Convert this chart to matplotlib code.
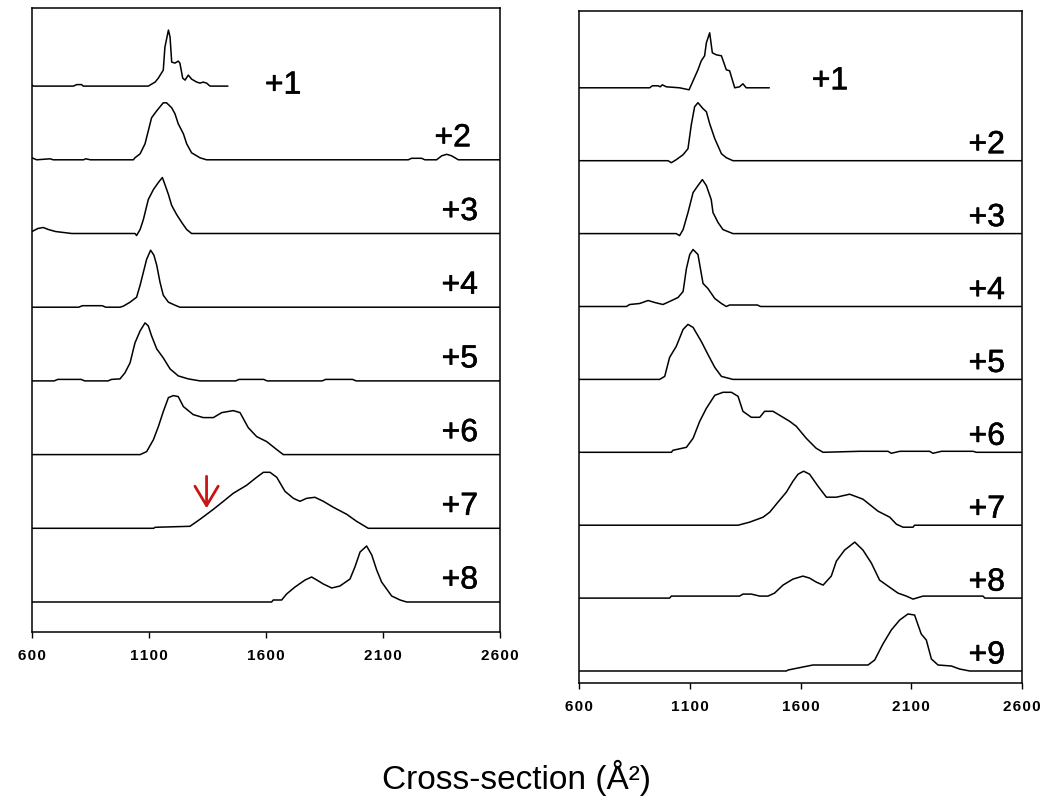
import matplotlib
matplotlib.use("Agg")
import matplotlib.pyplot as plt
import matplotlib.patheffects as pe
import numpy as np

plt.rcParams["font.family"] = ["Liberation Sans", "DejaVu Sans"]

# Cross-section distributions, (cross-section in A^2, intensity a.u.)
# Left column: charge states +1 .. +8
L1 = [(600, 1), (606, 0), (777, 0), (791, 1.5), (812, 1.5), (819, 0), (1097, 0), (1126, 4),
      (1140, 8), (1161, 16), (1168, 39), (1183, 56), (1190, 49), (1197, 24), (1211, 23),
      (1225, 25), (1232, 23), (1244, 8), (1254, 6), (1268, 11), (1282, 7), (1304, 4),
      (1318, 3), (1332, 4), (1346, 3), (1361, 0), (1436, 0)]
L2 = [(600, 2), (620, 0), (677, 1), (691, 0), (820, 0), (830, 1), (850, 0), (1033, 0),
      (1040, 2), (1062, 6), (1083, 16), (1097, 29), (1111, 42), (1133, 49), (1161, 57),
      (1175, 57), (1197, 52), (1211, 46), (1225, 36), (1247, 26), (1261, 16), (1282, 7),
      (1318, 2), (1346, 0), (2208, 0), (2222, 1.5), (2265, 1.5), (2279, 0), (2329, 0),
      (2351, 4), (2372, 5.5), (2393, 4), (2422, 0), (2600, 0)]
L3 = [(600, 2), (625, 5), (648, 6), (670, 4), (700, 2), (770, 0), (1040, 0), (1047, -2),
      (1062, 4), (1076, 14), (1097, 34), (1119, 44), (1140, 51), (1157, 56), (1168, 49),
      (1183, 39), (1197, 28), (1218, 19), (1240, 11), (1261, 4), (1282, 0), (2600, 0)]
L4 = [(600, 0), (800, 0), (815, 1.5), (900, 1.5), (915, 0), (976, 0), (990, 1), (1019, 5),
      (1047, 10), (1062, 22), (1076, 35), (1090, 48), (1107, 57), (1121, 52), (1133, 42),
      (1147, 25), (1161, 12), (1183, 5), (1211, 2), (1232, 0), (2600, 0)]
L5 = [(600, 0), (695, 0), (710, 1.5), (810, 1.5), (825, 0), (925, 0), (940, 1.5), (976, 2),
      (997, 8), (1019, 18), (1040, 38), (1062, 50), (1083, 58), (1097, 55), (1111, 45),
      (1133, 32), (1161, 23), (1190, 12), (1225, 5), (1268, 2), (1318, 0), (1470, 0),
      (1485, 1.5), (1590, 1.5), (1605, 0), (1840, 0), (1855, 1.5), (1970, 1.5), (1985, 0),
      (2600, 0)]
L6 = [(600, 0), (1062, 0), (1090, 3), (1119, 15), (1140, 28), (1161, 43), (1183, 57),
      (1204, 59), (1225, 58), (1247, 48), (1289, 40), (1332, 37), (1375, 37), (1411, 42),
      (1460, 44), (1489, 42), (1524, 27), (1560, 18), (1603, 13), (1646, 5), (1674, 0),
      (2600, 0)]
L7 = [(600, 0), (1120, 0), (1126, 1), (1275, 2), (1318, 9), (1375, 19), (1418, 27),
      (1460, 35), (1517, 43), (1560, 51), (1589, 56), (1617, 56), (1646, 51), (1681, 37),
      (1717, 30), (1745, 27), (1774, 30), (1809, 31), (1845, 27), (1888, 21), (1945, 14),
      (1987, 7), (2037, 0), (2600, 0)]
L8 = [(600, 0), (1624, 0), (1631, 2), (1667, 2), (1688, 8), (1724, 15), (1767, 22),
      (1795, 25), (1817, 22), (1845, 18), (1881, 14), (1916, 16), (1959, 23), (1980, 35),
      (2002, 50), (2030, 56), (2052, 47), (2073, 32), (2094, 20), (2137, 6), (2173, 2),
      (2201, 0), (2600, 0)]

# Right column: charge states +1 .. +9
R1 = [(600, 0), (919, 0), (931, 2), (957, 2), (967, 1), (976, 3), (994, 1), (1054, 0),
      (1097, -2), (1115, 7), (1137, 18), (1152, 27), (1167, 32), (1175, 45), (1190, 55),
      (1202, 35), (1220, 33), (1243, 32), (1265, 18), (1280, 17), (1303, 0), (1325, 1),
      (1340, 4), (1355, 0), (1458, 0)]
R2 = [(600, 0), (1002, 0), (1017, -2), (1039, 1), (1070, 6), (1092, 12), (1107, 36),
      (1122, 54), (1137, 58), (1160, 52), (1175, 49), (1190, 37), (1213, 22), (1243, 7),
      (1265, 3), (1295, 0), (2600, 0)]
R3 = [(600, 0), (1039, 0), (1054, -2), (1070, 4), (1092, 21), (1115, 41), (1137, 48),
      (1157, 54), (1175, 48), (1197, 34), (1205, 21), (1228, 11), (1250, 4), (1295, 0),
      (2600, 0)]
R4 = [(600, 0), (814, 0), (829, 2), (874, 3), (912, 6), (942, 4), (979, 2), (1009, 5),
      (1047, 9), (1070, 15), (1085, 38), (1100, 52), (1115, 57), (1137, 52), (1160, 23),
      (1182, 18), (1213, 8), (1243, 3), (1265, 0), (1280, 1.5), (1405, 1.5), (1420, 0),
      (2600, 0)]
R5 = [(600, 0), (964, 0), (987, 3), (1009, 22), (1039, 33), (1070, 50), (1092, 55),
      (1115, 52), (1152, 38), (1182, 25), (1213, 12), (1243, 3), (1295, 0), (2600, 0)]
R6 = [(600, 0), (1017, 0), (1024, 2), (1085, 5), (1115, 14), (1145, 31), (1175, 44),
      (1213, 57), (1250, 60), (1288, 60), (1318, 56), (1340, 41), (1378, 35), (1416, 35),
      (1438, 41), (1476, 41), (1506, 37), (1551, 31), (1581, 26), (1626, 14), (1671, 4),
      (1702, 0), (1867, 1), (1995, 1), (2010, -1), (2048, 1), (2183, 1), (2198, -1),
      (2236, 1), (2379, 1), (2394, 0), (2600, 0)]
R7 = [(600, 0), (1318, 0), (1370, 3), (1431, 8), (1461, 13), (1498, 23), (1536, 33),
      (1566, 44), (1589, 51), (1614, 54), (1641, 51), (1679, 39), (1717, 28), (1762, 28),
      (1822, 31), (1882, 26), (1950, 14), (2003, 8), (2033, 1), (2063, -2), (2108, -2),
      (2115, 0), (2600, 0)]
R8 = [(600, 0), (1009, 0), (1017, 2), (1325, 2), (1340, 4), (1378, 4), (1416, 2),
      (1453, 2), (1483, 5), (1521, 13), (1566, 19), (1611, 22), (1641, 20), (1671, 16),
      (1702, 13), (1739, 22), (1762, 37), (1799, 48), (1845, 56), (1882, 48), (1920, 35),
      (1957, 18), (1995, 12), (2040, 5), (2078, 2), (2108, -1), (2153, 2), (2424, 2),
      (2432, 0), (2600, 0)]
R9 = [(600, 0), (1536, 0), (1544, 1), (1611, 4), (1656, 6), (1905, 6), (1935, 11),
      (1972, 27), (2010, 41), (2048, 51), (2085, 57), (2115, 56), (2145, 37), (2168, 31),
      (2191, 12), (2221, 6), (2281, 5), (2318, 2), (2364, 0), (2600, 0)]

LEFT_LABELS = ["+1", "+2", "+3", "+4", "+5", "+6", "+7", "+8"]
RIGHT_LABELS = ["+1", "+2", "+3", "+4", "+5", "+6", "+7", "+8", "+9"]
X_TICKS = [600, 1100, 1600, 2100, 2600]
ARROW_X = 1346  # marked shoulder on the +7 trace (left)

HSP = "\u200a"
HEAVY = [pe.withStroke(linewidth=0.4, foreground="black")]


def draw_panel(ax, traces, labels, y0, step, ytop, lab_dy, first_dy, first_x, lab_x,
               shift=None):
    n = len(traces)
    shift = shift or {}
    for i, (tr, lab) in enumerate(zip(traces, labels)):
        base = y0 + step * (n - 1 - i)
        xs = np.array([p[0] for p in tr], float)
        hs = np.array([p[1] for p in tr], float)
        ax.plot(xs, base + hs, color="black", lw=1.1)
        if i == 0:
            ax.text(first_x, base + first_dy, lab, ha="center", va="baseline",
                    fontsize=23, path_effects=HEAVY)
        else:
            ax.text(lab_x - shift.get(lab, 0), base + lab_dy, lab, ha="right",
                    va="baseline", fontsize=23, path_effects=HEAVY)
    ax.set_xlim(600, 2600)
    ax.set_ylim(0, ytop)
    ax.set_yticks([])
    ax.set_xticks(X_TICKS)
    ax.set_xticklabels([HSP.join(str(t)) for t in X_TICKS], fontsize=11,
                       fontweight="bold")
    ax.tick_params(axis="x", direction="out", length=4.5, width=1.0, pad=8)
    for sp in ax.spines.values():
        sp.set_linewidth(1.1)


fig = plt.figure(figsize=(10.46, 8.01), dpi=100)

ax_l = fig.add_axes([32 / 1046, 1 - 632 / 801, 468 / 1046, 624 / 801])
draw_panel(ax_l, [L1, L2, L3, L4, L5, L6, L7, L8], LEFT_LABELS,
           y0=30, step=73.7, ytop=624, lab_dy=13.5, first_dy=-7.5,
           first_x=1673, lab_x=2506, shift={"+2": 30})

# red arrow on the +7 trace
base7 = 30 + 73.7 * 1
ax_l.annotate("", xy=(ARROW_X, base7 + 20), xytext=(ARROW_X, base7 + 52),
              arrowprops=dict(arrowstyle="->,head_length=0.5,head_width=0.3",
                              color="#c81414", lw=2.0, mutation_scale=28,
                              shrinkA=0, shrinkB=0))

ax_r = fig.add_axes([579 / 1046, 1 - 683 / 801, 443 / 1046, 672 / 801])
draw_panel(ax_r, [R1, R2, R3, R4, R5, R6, R7, R8, R9], RIGHT_LABELS,
           y0=12, step=72.9, ytop=672, lab_dy=7.5, first_dy=-1.5,
           first_x=1733, lab_x=2523)

fig.text(517 / 1046, 1 - 778 / 801, "Cross-section (Å²)", ha="center", va="center",
         fontsize=24)

fig.savefig("out.png", dpi=100)
